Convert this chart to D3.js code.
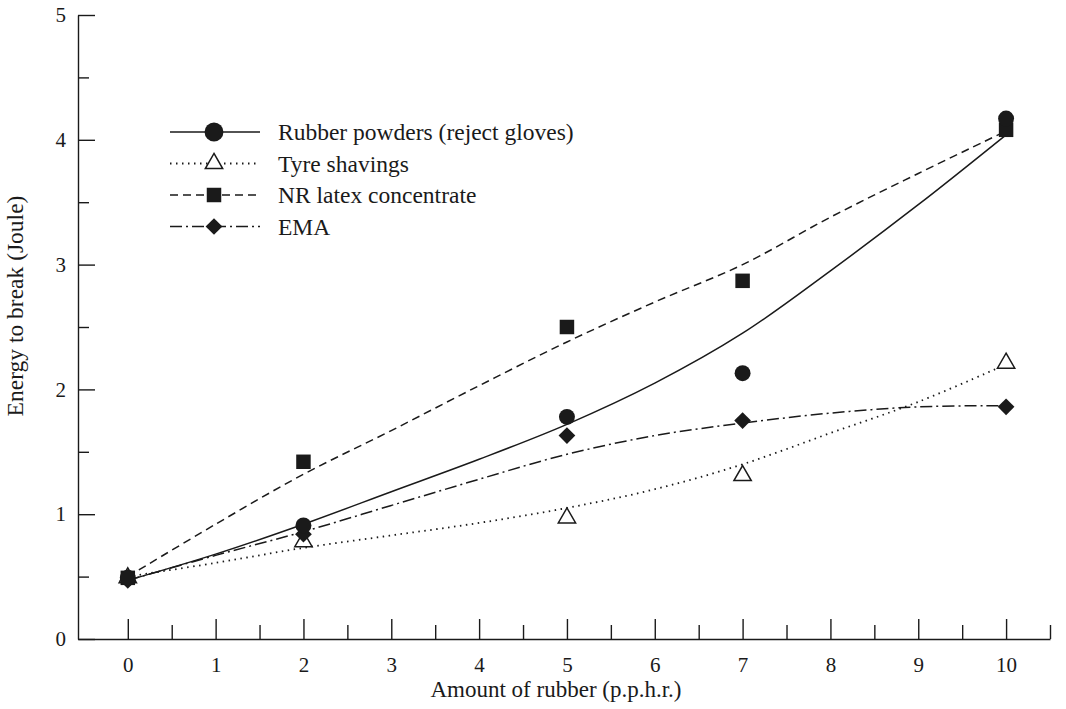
<!DOCTYPE html>
<html>
<head>
<meta charset="utf-8">
<script src="https://cdn.jsdelivr.net/npm/d3@7"></script>
<style>
  body { margin: 0; background: #fff; }
  svg { font-family: "Liberation Serif", "DejaVu Serif", serif; }
</style>
</head>
<body>
<script>
// measured points
var amounts = [0, 2, 5, 7, 10];
var rubberPowders = [0.49, 0.91, 1.78, 2.13, 4.17];
var tyreShavings = [0.49, 0.78, 0.97, 1.31, 2.21];
var nrLatex = [0.49, 1.42, 2.50, 2.87, 4.08];
var ema = [0.47, 0.84, 1.63, 1.75, 1.86];

// fitted curves, at 0..10
var curveX = [0, 1, 2, 3, 4, 5, 6, 7, 8, 9, 10];
var rubberFit = [0.47, 0.68, 0.92, 1.18, 1.44, 1.72, 2.05, 2.45, 2.95, 3.48, 4.04];
var tyreFit = [0.50, 0.61, 0.73, 0.83, 0.93, 1.05, 1.20, 1.40, 1.65, 1.90, 2.20];
var latexFit = [0.50, 0.92, 1.32, 1.67, 2.03, 2.38, 2.70, 3.00, 3.38, 3.73, 4.07];
var emaFit = [0.47, 0.67, 0.86, 1.07, 1.28, 1.48, 1.63, 1.73, 1.81, 1.86, 1.87];

var xTicks = [0, 1, 2, 3, 4, 5, 6, 7, 8, 9, 10];
var xMinor = [0.5, 1.5, 2.5, 3.5, 4.5, 5.5, 6.5, 7.5, 8.5, 9.5, 10.5];
var yTicks = [0, 1, 2, 3, 4, 5];
var yMinor = [0.5, 1.5, 2.5, 3.5, 4.5];

var seriesNames = ["Rubber powders (reject gloves)", "Tyre shavings", "NR latex concentrate", "EMA"];

var width = 1066, height = 709;
var svg = d3.select("body").append("svg").attr("width", width).attr("height", height);

var x = d3.scaleLinear().domain([-0.567, 10.5]).range([78, 1050]);
var y = d3.scaleLinear().domain([0, 5]).range([639, 15]);

var ink = "#1a1a1a";

// axes
var xAxis = svg.append("g").attr("transform", "translate(0,639)")
  .call(d3.axisBottom(x).tickValues(xTicks).tickSizeInner(-20).tickSizeOuter(0).tickPadding(18));
svg.append("g").attr("transform", "translate(0,639)")
  .call(d3.axisBottom(x).tickValues(xMinor).tickSizeInner(-14).tickSizeOuter(0).tickFormat(""))
  .select(".domain").remove();
var yAxis = svg.append("g").attr("transform", "translate(78,0)")
  .call(d3.axisLeft(y).tickValues(yTicks).tickFormat(d3.format("d")).tickSizeInner(-17).tickSizeOuter(0).tickPadding(12));
svg.append("g").attr("transform", "translate(78,0)")
  .call(d3.axisLeft(y).tickValues(yMinor).tickSizeInner(-11).tickSizeOuter(0).tickFormat(""))
  .select(".domain").remove();

svg.selectAll(".domain, .tick line").attr("stroke", ink).attr("stroke-width", 1.4);
svg.selectAll(".tick text").attr("fill", ink).style("font-size", "21px")
  .style("font-family", "'Liberation Serif', serif");
xAxis.selectAll(".tick text").attr("dy", "0.71em");

// axis titles
svg.append("text").attr("x", 556).attr("y", 697).attr("text-anchor", "middle")
  .style("font-size", "23px").attr("fill", ink).text("Amount of rubber (p.p.h.r.)");
svg.append("text").attr("transform", "translate(23,306) rotate(-90)").attr("text-anchor", "middle")
  .style("font-size", "23.5px").attr("fill", ink).text("Energy to break (Joule)");

// fitted curves
var dashes = [null, "1.5,4.5", "8,5", "12,4,2,4"];
var fits = [rubberFit, tyreFit, latexFit, emaFit];
var line = d3.line().x(function(d) { return x(d[0]); }).y(function(d) { return y(d[1]); })
  .curve(d3.curveCatmullRom.alpha(0.5));
fits.forEach(function(f, i) {
  svg.append("path")
    .datum(curveX.map(function(v, j) { return [v, f[j]]; }))
    .attr("d", line)
    .attr("fill", "none")
    .attr("stroke", ink)
    .attr("stroke-width", i == 1 ? 1.8 : 1.5)
    .attr("stroke-dasharray", dashes[i]);
});

// markers
var symbols = [d3.symbolCircle, d3.symbolTriangle, d3.symbolSquare, d3.symbolSquare];
var sizes = [200, 130, 210, 140];
var values = [rubberPowders, tyreShavings, nrLatex, ema];

function marker(g, i, scale) {
  var p = g.append("path")
    .attr("d", d3.symbol().type(symbols[i]).size(sizes[i] * (scale || 1))());
  if (i == 1) p.attr("fill", "#fff").attr("stroke", ink).attr("stroke-width", 1.5);
  else p.attr("fill", ink);
  if (i == 3) p.attr("transform", "rotate(45)");
  return p;
}

[1, 3, 2, 0].forEach(function(i) {
  amounts.forEach(function(a, j) {
    var g = svg.append("g").attr("transform", "translate(" + x(a) + "," + y(values[i][j]) + ")");
    marker(g, i);
  });
});

// legend
var legend = svg.append("g").attr("transform", "translate(170,132)");
seriesNames.forEach(function(name, i) {
  var row = legend.append("g").attr("transform", "translate(0," + (i * 31.5) + ")");
  row.append("line").attr("x1", 0).attr("x2", 90).attr("y1", 0).attr("y2", 0)
    .attr("stroke", ink).attr("stroke-width", i == 1 ? 1.8 : 1.5)
    .attr("stroke-dasharray", dashes[i]);
  var m = row.append("g").attr("transform", "translate(44,0)");
  marker(m, i, i == 0 ? 1.4 : 1);
  row.append("text").attr("x", 108).attr("y", 8)
    .style("font-size", "23.5px").attr("fill", ink).text(name);
});
</script>
</body>
</html>
